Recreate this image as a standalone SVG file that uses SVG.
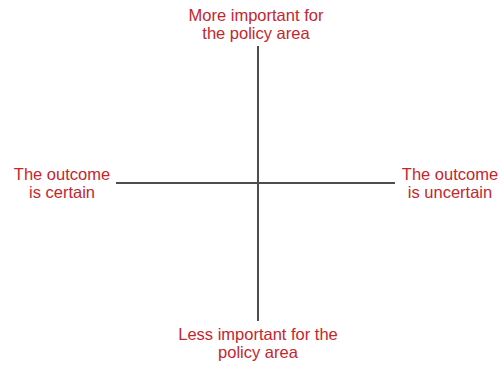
<svg xmlns="http://www.w3.org/2000/svg" width="500" height="366" viewBox="0 0 500 366">
<style>
.lbl{font-family:"Liberation Sans",Arial,sans-serif;font-size:16.5px;fill:#c4262e;text-anchor:middle}
.ax{stroke:#4d4d4d;stroke-width:2;fill:none}
</style>
<rect width="500" height="366" fill="#fff"/>
<g id="connectors">
<line class="ax" x1="258" y1="46" x2="258" y2="321"/>
<line class="ax" x1="116" y1="183" x2="395" y2="183"/>
</g>
<g id="top"><text class="lbl" x="256" y="21">More important for</text><text class="lbl" x="256" y="39">the policy area</text></g>
<g id="left"><text class="lbl" x="62" y="180">The outcome</text><text class="lbl" x="62" y="198">is certain</text></g>
<g id="right"><text class="lbl" x="450" y="180">The outcome</text><text class="lbl" x="450" y="198">is uncertain</text></g>
<g id="bottom"><text class="lbl" x="258" y="340">Less important for the</text><text class="lbl" x="258" y="358">policy area</text></g>
</svg>
